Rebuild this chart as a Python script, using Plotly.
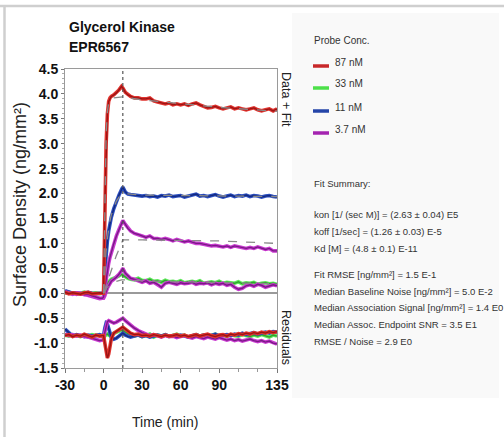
import plotly.graph_objects as go

# ---------------- data ----------------
time_min = [-30, -27, -24, -21, -18, -15, -12, -9, -6, -3, -1,
            0, 1, 2, 3, 4, 5, 6, 8, 10, 12, 14,
            15,
            17, 19, 21, 24, 27, 30, 33, 36, 39, 42, 45, 48, 51, 54, 57, 60, 63, 66, 69,
            72, 75, 78, 81, 84, 87, 90, 93, 96, 99, 102, 105, 108, 111, 114, 117, 120,
            123, 126, 129, 132, 135]

series_names = ["87 nM", "33 nM", "11 nM", "3.7 nM"]

red_87 = ([0.02, -0.01, 0.01, 0.0, -0.02, 0.01, 0.02, -0.01, 0.0, 0.01, 0.0]
          + [0.0, 1.8, 3.0, 3.6, 3.85, 3.92, 3.95, 3.98, 4.02, 4.08, 4.15]
          + [4.12]
          + [4.03, 3.98, 3.95, 3.92, 3.92, 3.9, 3.9, 3.92, 3.86, 3.84, 3.82, 3.8, 3.82, 3.78,
             3.8, 3.78, 3.8, 3.77, 3.8, 3.82, 3.78, 3.75, 3.72, 3.73, 3.75, 3.72, 3.7, 3.72,
             3.74, 3.7, 3.72, 3.7, 3.68, 3.7, 3.72, 3.68, 3.66, 3.68, 3.7, 3.66, 3.7])
blue_11 = ([0.05, 0.02, 0.0, 0.01, -0.01, 0.0, 0.02, 0.0, -0.01, 0.0, 0.01]
           + [0.0, 0.45, 0.8, 1.05, 1.25, 1.4, 1.52, 1.7, 1.85, 1.97, 2.08]
           + [2.13]
           + [2.03, 1.99, 1.98, 1.97, 1.96, 1.95, 1.96, 1.94, 1.95, 1.93, 1.96, 1.95, 1.97,
              1.94, 1.95, 1.96, 1.93, 1.95, 1.97, 1.99, 1.95, 1.96, 1.94, 1.96, 1.98, 1.95,
              1.93, 1.95, 1.97, 1.94, 1.96, 1.95, 1.97, 1.94, 1.96, 1.95, 1.93, 1.95, 1.96,
              1.94, 1.93])
magenta_37 = ([0.03, 0.0, -0.02, 0.01, 0.0, -0.03, -0.02, -0.05, -0.08, -0.1, -0.1]
              + [-0.08, 0.1, 0.3, 0.45, 0.6, 0.72, 0.82, 1.0, 1.15, 1.28, 1.4]
              + [1.46]
              + [1.38, 1.3, 1.25, 1.2, 1.18, 1.15, 1.12, 1.15, 1.1, 1.1, 1.08, 1.1, 1.08, 1.05,
                 1.08, 1.05, 1.03, 1.05, 1.02, 1.0, 1.0, 0.98, 0.97, 0.95, 0.96, 0.95, 0.93,
                 0.95, 0.92, 0.95, 0.93, 0.92, 0.9, 0.92, 0.9, 0.93, 0.9, 0.88, 0.9, 0.85, 0.85])
green_33 = ([0.0, 0.02, -0.01, 0.01, 0.0, 0.02, -0.01, 0.0, 0.01, -0.01, 0.0]
            + [0.0, 0.08, 0.15, 0.2, 0.23, 0.26, 0.28, 0.3, 0.32, 0.35, 0.38]
            + [0.36]
            + [0.33, 0.3, 0.28, 0.27, 0.3, 0.26, 0.25, 0.28, 0.24, 0.25, 0.22, 0.26, 0.23,
               0.24, 0.22, 0.25, 0.21, 0.23, 0.24, 0.22, 0.25, 0.2, 0.22, 0.23, 0.21, 0.24,
               0.2, 0.22, 0.21, 0.2, 0.23, 0.19, 0.21, 0.2, 0.22, 0.18, 0.2, 0.21, 0.19, 0.2,
               0.18])
magenta_low = ([0.02, 0.0, 0.01, -0.02, 0.0, -0.02, -0.04, -0.06, -0.09, -0.11, -0.1]
               + [-0.1, -0.05, 0.05, 0.1, 0.15, 0.2, 0.24, 0.28, 0.32, 0.38, 0.45]
               + [0.5]
               + [0.4, 0.35, 0.3, 0.28, 0.25, 0.22, 0.25, 0.2, 0.22, 0.18, 0.12, 0.2, 0.22,
                  0.2, 0.18, 0.21, 0.19, 0.2, 0.22, 0.18, 0.2, 0.19, 0.21, 0.17, 0.2, 0.18,
                  0.2, 0.16, 0.18, 0.12, 0.08, 0.1, 0.15, 0.17, 0.14, 0.18, 0.16, 0.12, 0.15,
                  0.17, 0.15])

fit_time = [0, 1, 2, 3, 4, 5, 6, 8, 10, 12, 14, 15, 30, 60, 90, 135]
red_fit = [0, 2.0, 3.2, 3.65, 3.82, 3.88, 3.9, 3.92, 3.93, 3.94, 3.94, 3.94, 3.88, 3.8, 3.73, 3.65]
blue_fit = [0, 0.5, 0.85, 1.1, 1.3, 1.45, 1.57, 1.73, 1.85, 1.93, 1.98, 2.0, 1.97, 1.96, 1.95, 1.94]
magenta_fit = [0, 0.08, 0.16, 0.24, 0.32, 0.4, 0.48, 0.62, 0.76, 0.88, 1.0, 1.07, 1.07, 1.06, 1.05, 1.0]
green_fit = [0, 0.05, 0.09, 0.12, 0.15, 0.17, 0.19, 0.22, 0.24, 0.26, 0.27, 0.27, 0.25, 0.23, 0.21, 0.19]

# residuals (displayed offset below the sensorgrams)
red_res = ([-0.85, -0.83, -0.87, -0.84, -0.86, -0.82, -0.85, -0.88, -0.84, -0.86, -0.85]
           + [-0.85, -1.0, -1.2, -1.3, -1.22, -1.05, -0.92, -0.8, -0.76, -0.72, -0.69]
           + [-0.68]
           + [-0.72, -0.77, -0.8, -0.83, -0.82, -0.85, -0.84, -0.86, -0.83, -0.85, -0.87,
              -0.84, -0.86, -0.85, -0.83, -0.86, -0.84, -0.87, -0.85, -0.83, -0.86, -0.84,
              -0.82, -0.85, -0.87, -0.84, -0.83, -0.86, -0.82, -0.84, -0.81, -0.83, -0.8,
              -0.82, -0.79, -0.81, -0.78, -0.8, -0.77, -0.79, -0.77])
blue_res = ([-0.72, -0.8, -0.86, -0.83, -0.85, -0.87, -0.84, -0.86, -0.85, -0.83, -0.85]
            + [-0.85, -0.7, -0.6, -0.62, -0.7, -0.8, -0.88, -0.92, -0.9, -0.86, -0.82]
            + [-0.8]
            + [-0.84, -0.87, -0.88, -0.86, -0.84, -0.87, -0.85, -0.88, -0.86, -0.84, -0.86,
               -0.83, -0.86, -0.85, -0.87, -0.84, -0.86, -0.88, -0.85, -0.83, -0.86, -0.84,
               -0.87, -0.85, -0.82, -0.86, -0.84, -0.83, -0.85, -0.82, -0.84, -0.8, -0.83,
               -0.81, -0.79, -0.82, -0.8, -0.78, -0.8, -0.77, -0.78])
magenta_res = ([-0.82, -0.85, -0.83, -0.86, -0.84, -0.87, -0.88, -0.9, -0.93, -0.95, -0.94]
               + [-0.92, -0.78, -0.65, -0.57, -0.55, -0.56, -0.58, -0.6, -0.58, -0.55, -0.52]
               + [-0.5]
               + [-0.55, -0.6, -0.64, -0.7, -0.75, -0.79, -0.82, -0.85, -0.83, -0.86, -0.88,
                  -0.85, -0.87, -0.86, -0.89, -0.87, -0.85, -0.88, -0.9, -0.87, -0.89, -0.91,
                  -0.88, -0.9, -0.92, -0.89, -0.91, -0.94, -0.92, -0.95, -0.93, -0.96, -0.94,
                  -0.92, -0.95, -0.97, -0.95, -0.98, -0.96, -1.0, -1.02])
green_res = ([-0.84, -0.86, -0.83, -0.85, -0.87, -0.84, -0.86, -0.83, -0.85, -0.84, -0.86]
             + [-0.85, -0.86, -0.83, -0.82, -0.84, -0.85, -0.83, -0.8, -0.78, -0.76, -0.74]
             + [-0.75]
             + [-0.78, -0.82, -0.84, -0.86, -0.83, -0.87, -0.85, -0.82, -0.88, -0.84, -0.86,
                -0.83, -0.87, -0.85, -0.82, -0.86, -0.84, -0.88, -0.85, -0.83, -0.86, -0.84,
                -0.87, -0.85, -0.82, -0.86, -0.84, -0.87, -0.83, -0.85, -0.86, -0.83, -0.85,
                -0.87, -0.84, -0.86, -0.83, -0.85, -0.88, -0.84, -0.86])

x_ticks = [-30, 0, 30, 60, 90, 135]
y_ticks = [-1.5, -1.0, -0.5, 0.0, 0.5, 1.0, 1.5, 2.0, 2.5, 3.0, 3.5, 4.0, 4.5]
injection_end = 15

fit_summary = [
    "Fit Summary:",
    "kon [1/ (sec M)] = (2.63 ± 0.04) E5",
    "koff [1/sec] = (1.26 ± 0.03) E-5",
    "Kd [M] = (4.8 ± 0.1) E-11",
    "Fit RMSE [ng/mm²] = 1.5 E-1",
    "Median Baseline Noise [ng/mm²] = 5.0 E-2",
    "Median Association Signal [ng/mm²] = 1.4 E0",
    "Median Assoc. Endpoint SNR = 3.5 E1",
    "RMSE / Noise = 2.9 E0",
]

# ---------------- styles ----------------
halo = {"red": "#e0332e", "green": "#5ee85a", "blue": "#2c4fc0", "magenta": "#c93ad0"}
core = {"red": "#9c1414", "green": "#2fa22f", "blue": "#142a80", "magenta": "#7a1a86"}
swatch = {"87 nM": "#c8282a", "33 nM": "#4de04a", "11 nM": "#2545a8", "3.7 nM": "#a424b0"}

SANS = "Liberation Sans Narrow, Arial Narrow, Liberation Sans, Arial, sans-serif"

W, H = 504, 437
L, R, T, B = 65, 277, 69, 368


def px(xp):
    return (xp - L) / (R - L)


def py(yp):
    return (B - yp) / (B - T)


fig = go.Figure()


def add_series(x, y, c):
    fig.add_trace(go.Scatter(x=x, y=y, mode="lines", line=dict(color=halo[c], width=3.6),
                             showlegend=False, hoverinfo="skip"))
    fig.add_trace(go.Scatter(x=x, y=y, mode="lines", line=dict(color=core[c], width=1.4),
                             showlegend=False, hoverinfo="skip"))


for y, c in [(green_res, "green"), (blue_res, "blue"), (magenta_res, "magenta"), (red_res, "red")]:
    add_series(time_min, y, c)
for y, c in [(green_33, "green"), (magenta_low, "magenta"), (blue_11, "blue"),
             (magenta_37, "magenta"), (red_87, "red")]:
    add_series(time_min, y, c)
for y in [red_fit, blue_fit, magenta_fit, green_fit]:
    fig.add_trace(go.Scatter(x=fit_time, y=y, mode="lines",
                             line=dict(color="#8a8a8a", width=1.3, dash="dash"),
                             showlegend=False, hoverinfo="skip"))

shapes = []
# page card
shapes.append(dict(type="rect", xref="paper", yref="paper", x0=px(292), x1=px(499), y0=py(398), y1=py(13),
                   fillcolor="#f9f9f9", line=dict(width=0), layer="below"))
shapes.append(dict(type="line", xref="paper", yref="paper", x0=px(0), x1=px(504), y0=py(6), y1=py(6),
                   line=dict(color="#cfcfcf", width=2.5)))
shapes.append(dict(type="line", xref="paper", yref="paper", x0=px(4.5), x1=px(4.5), y0=py(6), y1=py(437),
                   line=dict(color="#cfcfcf", width=2.5)))
# end of injection marker
shapes.append(dict(type="line", xref="x", yref="paper", x0=injection_end, x1=injection_end, y0=0, y1=1,
                   line=dict(color="#555555", width=1.2, dash="dot")))


def note(text, x, y, size, color="#333", anchor="left", angle=0):
    return dict(text=text, x=px(x), y=py(y), xref="paper", yref="paper",
                xanchor=anchor, yanchor="middle", showarrow=False, textangle=angle,
                font=dict(family=SANS, size=size, color=color))


annotations = [
    note("<b>Glycerol Kinase</b>", 67, 27, 14, "#111"),
    note("<b>EPR6567</b>", 67, 47, 14, "#111"),
    note("Data + Fit", 286, 99, 12.5, "#222", "center", 90),
    note("Residuals", 286, 337, 12.5, "#222", "center", 90),
    note("Surface Density (ng/mm²)", 20, 205, 18, "#222", "center", -90),
    note("Time (min)", 165, 422, 14, "#222", "center"),
    note("Probe Conc.", 312, 40, 10, "#333"),
]

leg_y = [62, 84, 107, 129]
for name, yy in zip(series_names, leg_y):
    shapes.append(dict(type="line", xref="paper", yref="paper", x0=px(313), x1=px(329),
                       y0=py(yy + 4), y1=py(yy + 4), line=dict(color=swatch[name], width=3.5)))
    annotations.append(note(name, 333, yy, 10, "#333"))

sum_y = [183, 214, 231, 248, 274, 291, 307, 324, 341]
for line, yy in zip(fit_summary, sum_y):
    annotations.append(note(line, 312, yy, 9.5, "#333"))

fig.update_layout(
    width=W, height=H,
    margin=dict(l=L, r=W - R, t=T, b=H - B, pad=0),
    paper_bgcolor="white", plot_bgcolor="white",
    showlegend=False,
    shapes=shapes, annotations=annotations,
    xaxis=dict(range=[-30, 135], tickvals=x_ticks, ticktext=["<b>%d</b>" % v for v in x_ticks],
               showgrid=False, zeroline=False, showline=True, linecolor="#9a9a9a", linewidth=1,
               mirror=True, ticks="outside", ticklen=4, tickcolor="#777",
               minor=dict(dtick=15, tick0=-30, ticks="outside", ticklen=3, tickcolor="#999"),
               tickfont=dict(family=SANS, size=14, color="#111")),
    yaxis=dict(range=[-1.5, 4.5], tickvals=y_ticks, ticktext=["<b>%.1f</b>" % v for v in y_ticks],
               showgrid=False, zeroline=True, zerolinecolor="#9a9a9a", zerolinewidth=1.5,
               showline=True, linecolor="#9a9a9a", linewidth=1, mirror=True,
               ticks="outside", ticklen=3, tickcolor="#777",
               minor=dict(dtick=0.1, ticks="outside", ticklen=2, tickcolor="#aaa"),
               tickfont=dict(family=SANS, size=14, color="#111")),
)

fig.write_html("out.html", config={"displayModeBar": False},
               post_script="document.body.style.margin='0px';document.body.style.overflow='hidden';")
